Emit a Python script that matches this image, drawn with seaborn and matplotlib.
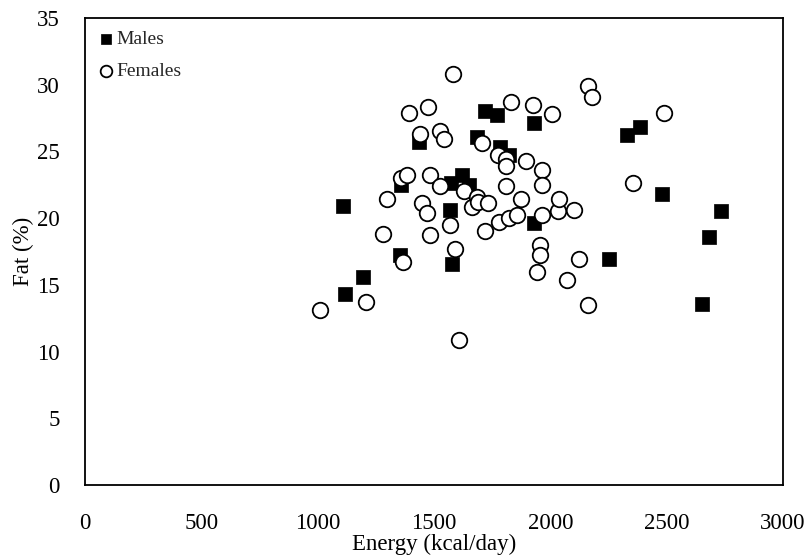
import pandas as pd
import seaborn as sns
import matplotlib.pyplot as plt

# energy intake (kcal/day) and body fat (%)
male_energy = [1107, 1117, 1193, 1354, 1358, 1437, 1569, 1579, 1575, 1621, 1651, 1686, 1719,
               1769, 1783, 1823, 1928, 1928, 2253, 2328, 2385, 2482, 2650, 2684, 2733]
male_fat = [20.9, 14.3, 15.6, 17.2, 22.5, 25.7, 20.6, 16.6, 22.6, 23.2, 22.5, 26.1, 28.0,
            27.7, 25.3, 24.7, 27.1, 19.6, 16.9, 26.2, 26.8, 21.8, 13.6, 18.6, 20.5]

female_energy = [1011, 1206, 1282, 1296, 1358, 1382, 1367, 1392, 1441, 1450, 1470, 1475, 1484,
                 1484, 1524, 1526, 1544, 1567, 1580, 1592, 1609, 1629, 1665, 1683, 1690, 1705,
                 1719, 1730, 1776, 1780, 1809, 1809, 1809, 1824, 1831, 1855, 1874, 1894, 1927,
                 1944, 1955, 1955, 1963, 1963, 1963, 2009, 2034, 2037, 2073, 2101, 2123, 2162,
                 2163, 2177, 2357, 2488]
female_fat = [13.1, 13.7, 18.8, 21.4, 23.0, 23.2, 16.7, 27.9, 26.3, 21.1, 20.4, 28.3, 23.2,
              18.7, 26.5, 22.4, 25.9, 19.5, 30.8, 17.7, 10.9, 22.0, 20.8, 21.6, 21.2, 25.6,
              19.0, 21.1, 24.7, 19.7, 24.4, 23.9, 22.4, 20.0, 28.7, 20.2, 21.4, 24.3, 28.5,
              16.0, 18.0, 17.2, 23.6, 22.5, 20.2, 27.8, 20.5, 21.4, 15.4, 20.6, 16.9, 29.9,
              13.5, 29.1, 22.6, 27.9]

x_ticks = [0, 500, 1000, 1500, 2000, 2500, 3000]
y_ticks = [0, 5, 10, 15, 20, 25, 30, 35]

males = pd.DataFrame({'energy': male_energy, 'fat': male_fat})
females = pd.DataFrame({'energy': female_energy, 'fat': female_fat})

sns.set_theme(style='white')
plt.rcParams['font.family'] = ['Liberation Serif', 'DejaVu Serif']

fig = plt.figure(figsize=(8.11, 5.59), dpi=100)
ax = fig.add_axes([0.1048, 0.1324, 0.8607, 0.8354])

sns.scatterplot(data=males, x='energy', y='fat', marker='s', s=95, color='black',
                edgecolor='black', linewidth=0.5, label='Males', ax=ax, zorder=3)
sns.scatterplot(data=females, x='energy', y='fat', marker='o', s=125, facecolor='white',
                edgecolor='black', linewidth=1.3, label='Females', ax=ax, zorder=4)

ax.set_xlim(0, 3000)
ax.set_ylim(0, 35)
ax.set_xticks(x_ticks)
ax.set_yticks(y_ticks)
ax.tick_params(axis='both', length=0, labelsize=16.5, colors='black')
ax.tick_params(axis='x', pad=20)
ax.tick_params(axis='y', pad=18)
ax.set_xlabel('Energy (kcal/day)', fontsize=16.5, color='black', labelpad=0)
ax.set_ylabel('Fat (%)', fontsize=16.5, color='black', labelpad=2)

for s in ax.spines.values():
    s.set_visible(True)
    s.set_color('black')
    s.set_linewidth(1.3)

leg = ax.legend(loc='upper left', frameon=False, fontsize=14, handletextpad=0.05,
                handlelength=0.9, borderaxespad=0.25, labelspacing=0.75, markerscale=0.75)

plt.savefig('out.png', dpi=100)
